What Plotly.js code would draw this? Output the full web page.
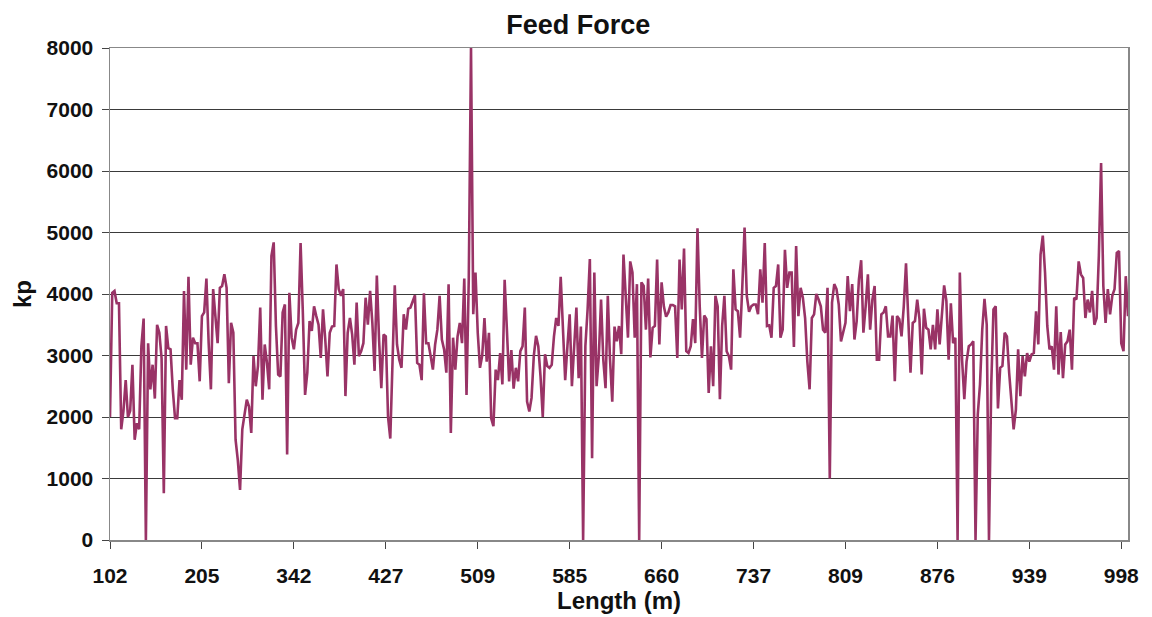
<!DOCTYPE html>
<html>
<head>
<meta charset="utf-8">
<script src="https://cdn.plot.ly/plotly-3.0.1.min.js"></script>
<style>html,body{margin:0;padding:0;background:#fff;}#chart{width:1152px;height:617px;}</style>
</head>
<body>
<div id="chart"></div>
<script>
// Category tick labels (length in m), one label every 41 samples
const tickLabels = ['102','205','342','427','509','585','660','737','809','876','939','998'];
const samplesPerLabel = 41;

// Feed force (kp), in segments between tick labels
const seg1 = [2000,4020,4050,3850,3850,1800,2100,2600,2000,2100,2850,1630,1900,1800,3150,3600,0,3200,2450,2850,2300,3500,3370,2960,760,3480,3120,3100,2450,1980,1980,2600,2280,4050,2770,4280,2850,3290,3200,3200,2580,3640];
const seg2 = [3700,4250,3200,2450,4080,3700,3200,4100,4130,4320,4100,2550,3530,3370,1630,1300,815,1800,2060,2280,2170,1740,2990,2500,2830,3780,2280,3180,2880,2450,4620,4840,3480,2690,2660,3700,3830,1390,4020,3290,3100];
const seg3 = [3420,3530,4830,3700,2360,2720,3560,3400,3800,3640,3500,2960,3750,3260,2660,3370,3470,3480,4480,4080,3970,4080,2340,3370,3610,3340,2850,3860,2990,3070,3200,3940,3500,4050,3530,2750,4300,3260,2470,3340,3310];
const seg4 = [2000,1650,2900,4140,3180,2930,2800,3670,3420,3760,3780,3900,3980,2880,2850,2600,4010,3200,3200,2990,2770,3180,3420,3970,3260,3100,2720,4160,1740,3290,2770,3310,3530,3200,4250,2360,4240,8000,3670,4350,3370];
const seg5 = [2800,3000,3610,2900,3370,1980,1850,2770,2600,3040,2530,4230,3420,2580,3090,2460,2800,2580,3070,3150,3780,2250,2090,2310,2990,3320,3150,2660,2000,3020,2830,2800,2850,3310,3610,3480,4280,3480,2600,3150,3670];
const seg6 = [2500,3260,3780,2630,3470,0,3150,3750,4570,1330,4350,2500,2990,3910,2930,2470,3970,2930,2250,3470,3230,3480,3020,4640,3970,3290,4530,4350,3290,4160,0,4190,4130,3420,4250,2970,3450,3480,4560,3180,4190];
const seg7 = [3800,3630,3700,3820,3820,3800,2960,4560,3750,4740,3070,3040,3150,3590,3200,5070,3800,2960,3650,3590,2390,3150,2500,3970,3800,2290,3480,3970,3070,2990,2770,4400,3750,3720,3290,4130,5080,3970,3710,3800,3830];
const seg8 = [3830,3670,4400,3860,4830,3480,3490,3290,4100,4130,4480,3290,3420,4720,4100,4350,4350,3140,4780,3640,4100,3940,3610,2900,2450,3610,3670,4000,3910,3800,3420,3370,4100,1000,3860,4160,4080,3830,3230,3400,3530];
const seg9 = [4290,3720,4160,3260,3560,4240,4550,3370,3800,4320,3420,3910,4130,2930,2930,3670,3700,3800,3310,3310,3650,2580,3640,3590,3310,3800,4500,3560,2720,3530,3560,3910,3590,2690,3760,3450,3420,3100,3500,3100];
const seg10 = [3750,3180,3670,4140,3890,2930,3850,3200,3290,0,4350,2930,2290,2900,3150,3180,3230,0,2040,2530,3420,3920,3500,0,2500,3750,3800,2140,2800,2830,3370,3310,2720,2230,1800,2120,3100,2340,2990,2660,3040];
const seg11 = [2900,3020,3040,3720,3180,4640,4950,4350,3480,3100,3150,2770,3800,2690,3380,2630,3180,3230,3420,2770,3940,3910,4530,4320,4260,3610,3910,3700,4050,3500,3610,4620,6130,4130,3530,4080,3670,3970,4080,4670,4700,3200,3070,4290,3640];

const feedForce = [].concat(seg1, seg2, seg3, seg4, seg5, seg6, seg7, seg8, seg9, seg10, seg11);
const sampleIndex = feedForce.map((_, i) => i);
const tickPositions = tickLabels.map((_, i) => i * samplesPerLabel);

const font = {family: 'Liberation Sans, Arial, sans-serif', color: '#111'};

const trace = {
  x: sampleIndex,
  y: feedForce,
  type: 'scatter',
  mode: 'lines',
  line: {color: '#993366', width: 2.6},
  hoverinfo: 'skip'
};

const layout = {
  width: 1152,
  height: 617,
  margin: {l: 110, r: 24, t: 48, b: 77},
  paper_bgcolor: '#ffffff',
  plot_bgcolor: '#ffffff',
  showlegend: false,
  title: {text: 'Feed Force', x: 0.502, xanchor: 'center', yref: 'container', y: 0.961, yanchor: 'middle',
          font: Object.assign({}, font, {size: 27, weight: 'bold'})},
  xaxis: {
    range: [0, feedForce.length - 1],
    autorange: false,
    tickmode: 'array',
    tickvals: tickPositions,
    ticktext: tickLabels,
    ticks: 'outside',
    ticklen: 7,
    tickcolor: '#444',
    ticklabelstandoff: 9,
    tickfont: Object.assign({}, font, {size: 21, weight: 'bold'}),
    showgrid: false,
    zeroline: false,
    showline: true,
    linecolor: '#888',
    linewidth: 1.5,
    mirror: true,
    title: {text: 'Length (m)', standoff: 2, font: Object.assign({}, font, {size: 24, weight: 'bold'})}
  },
  yaxis: {
    range: [0, 8000],
    autorange: false,
    dtick: 1000,
    tick0: 0,
    ticks: 'outside',
    ticklen: 7,
    tickcolor: '#444',
    ticklabelstandoff: 4,
    tickfont: Object.assign({}, font, {size: 21, weight: 'bold'}),
    showgrid: true,
    gridcolor: '#3a3a3a',
    gridwidth: 1,
    zeroline: false,
    showline: true,
    linecolor: '#888',
    linewidth: 1.5,
    mirror: true,
    title: {text: 'kp', standoff: 8, font: Object.assign({}, font, {size: 24, weight: 'bold'})}
  }
};

Plotly.newPlot('chart', [trace], layout, {displayModeBar: false, staticPlot: true});
</script>
</body>
</html>
